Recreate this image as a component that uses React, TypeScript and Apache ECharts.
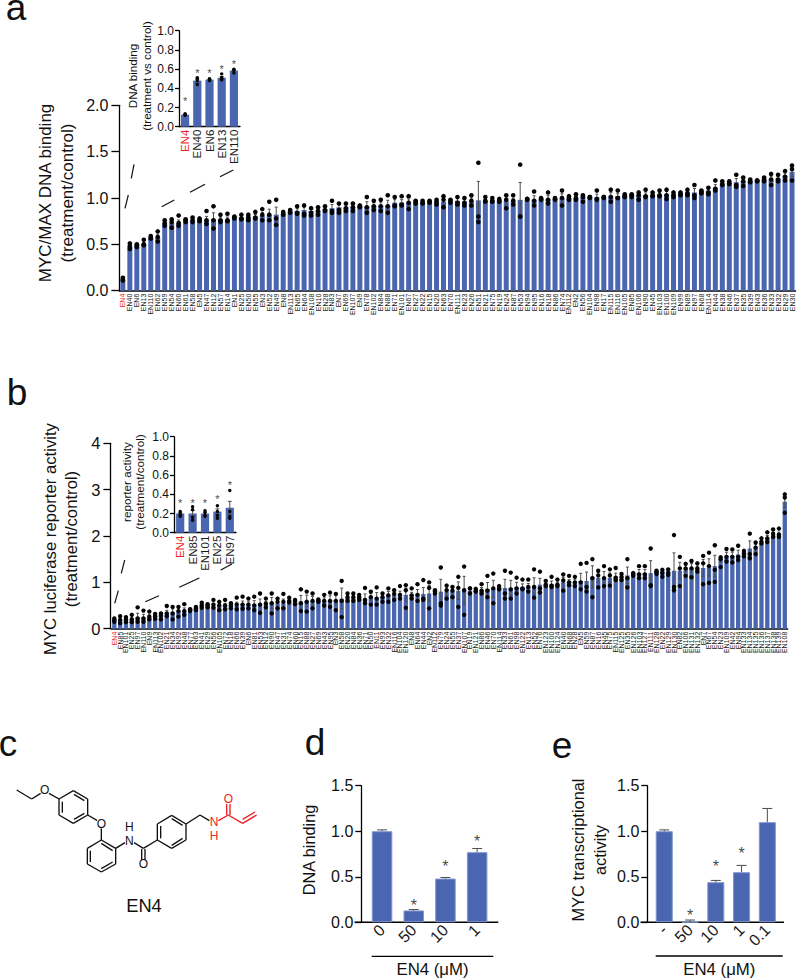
import React, { useEffect, useRef } from "react";
import * as echarts from "echarts";

const FONT = "'Liberation Sans', Arial, sans-serif";
const BLUE = "#4a66b1";
const RED = "#ee1c25";

// ---------- panel a, main ----------
const catsA = ["EN4","EN40","EN6","EN13","EN110","EN62","EN59","EN54","EN60","EN61","EN58","EN5","EN47","EN12","EN57","EN14","EN1","EN25","EN50","EN55","EN3","EN52","EN49","EN8","EN113","EN65","EN64","EN108","EN10","EN28","EN83","EN7","EN69","EN107","EN9","EN78","EN102","EN84","EN88","EN71","EN101","EN67","EN27","EN22","EN15","EN20","EN63","EN70","EN111","EN23","EN26","EN51","EN21","EN75","EN19","EN24","EN87","EN53","EN94","EN95","EN16","EN18","EN86","EN74","EN112","EN2","EN56","EN104","EN98","EN17","EN115","EN116","EN105","EN85","EN106","EN90","EN45","EN103","EN100","EN109","EN99","EN89","EN97","EN68","EN114","EN44","EN38","EN46","EN37","EN35","EN39","EN43","EN36","EN33","EN32","EN29","EN30"];
const meansA = [.12,.475,.49,.5,.57,.58,.73,.73,.73,.75,.75,.76,.76,.77,.77,.77,.79,.79,.79,.8,.81,.82,.82,.83,.85,.86,.87,.86,.86,.88,.89,.9,.9,.9,.91,.91,.92,.92,.92,.95,.95,.95,.95,.95,.96,.96,.96,.96,.97,.96,.97,.975,.97,.97,.97,.97,.97,.98,.98,.98,.99,.99,.99,1,1,1,1.01,1.01,1.01,1.01,1.02,1.02,1.03,1.03,1.03,1.03,1.03,1.04,1.04,1.04,1.05,1.06,1.06,1.07,1.08,1.11,1.15,1.16,1.17,1.18,1.18,1.19,1.2,1.2,1.21,1.24,1.28];
const pointsA = [
[.11,.12,.14],[.45,.48,.51],[.47,.49,.5],[.49,.5,.55],[.56,.57,.59],[.53,.58,.64],[.7,.73,.76],[.68,.74,.77],[.7,.73,.81],
[.74,.76,.77],[.74,.76,.79],[.75,.76,.78],[.72,.76,.86],[.67,.76,.91],[.74,.76,.82],[.75,.76,.83],[.78,.79,.8],[.77,.78,.82],[.76,.79,.82],[.78,.79,.85],
[.76,.82,.88],[.76,.82,.96],[.71,.78,.98],[.82,.83,.85],[.84,.85,.87],[.83,.84,.91],[.81,.83,.92],[.81,.84,.89],[.82,.86,.9],[.86,.87,.91],
[.84,.86,.97],[.84,.87,.94],[.86,.89,.94],[.86,.9,.94],[.9,.91,.92],[.84,.9,1.01],[.87,.91,.97],[.86,.91,.98],[.84,.91,1.03],[.91,.92,1.01],
[.92,.93,1.02],[.88,.95,1.02],[.94,.96,.97],[.94,.95,.97],[.95,.96,.97],[.93,.96,.98],[.9,.98,1.02],[.95,.97,.98],[.93,.95,1.01],[.92,.95,1],
[.92,.97,1.03],[.74,.8,1.38],[.96,.97,1.01],[.96,.97,1],[.96,.97,.99],[.89,.98,1.03],[.93,.97,1.03],[.8,.8,1.36],[.98,.99,.99],[.92,.97,1.07],
[.98,.99,1],[.94,.98,1.06],[.98,.99,1],[.92,1,1.08],[.98,1,1.02],[.98,1,1.04],[.96,1.01,1.03],[1,1.01,1.01],[.98,.99,1.08],[1,1.01,1.01],
[.96,1.01,1.09],[1,1,1.08],[1.01,1.02,1.04],[1.01,1.03,1.04],[.98,1.03,1.06],[1.01,1.02,1.09],[1.02,1.03,1.06],[1.02,1.03,1.08],[.99,1.03,1.09],[1.01,1.03,1.06],
[1.03,1.04,1.06],[1.03,1.05,1.09],[1,1.03,1.14],[1.05,1.07,1.08],[1.04,1.06,1.11],[1.08,1.1,1.19],[1.14,1.15,1.18],[1.15,1.16,1.18],[1.12,1.14,1.25],[1.13,1.18,1.22],
[1.17,1.18,1.2],[1.18,1.19,1.19],[1.18,1.2,1.22],[1.14,1.2,1.26],[1.18,1.2,1.25],[1.19,1.23,1.29],[1.19,1.31,1.35],
];

// ---------- panel a, inset ----------
const catsAI = ["EN4","EN40","EN6","EN13","EN110"];
const meansAI = [.125,.48,.49,.51,.585];
const pointsAI = [[.12,.125,.135],[.44,.48,.51,.5],[.48,.49,.5,.49],[.49,.5,.55,.51],[.56,.59,.6,.59]];
const starsAI = [.29,.58,.585,.625,.68];

// ---------- panel b, main ----------
const catsB = ["EN4","EN85","EN101","EN25","EN97","EN110","EN9","EN113","EN102","EN21","EN34","EN92","EN48","EN77","EN63","EN41","EN29","EN56","EN105","EN72","EN18","EN66","EN39","EN6","EN81","EN53","EN12","EN90","EN47","EN31","EN74","EN60","EN15","EN88","EN27","EN69","EN43","EN95","EN3","EN58","EN20","EN84","EN36","EN71","EN50","EN11","EN93","EN32","EN116","EN104","EN120","EN8","EN64","EN44","EN2","EN112","EN79","EN24","EN55","EN37","EN107","EN19","EN121","EN86","EN46","EN70","EN114","EN33","EN61","EN98","EN122","EN13","EN52","EN76","EN123","EN100","EN124","EN40","EN68","EN28","EN5","EN59","EN87","EN16","EN45","EN75","EN115","EN125","EN35","EN126","EN103","EN127","EN111","EN128","EN22","EN129","EN130","EN82","EN106","EN131","EN132","EN7","EN67","EN54","EN23","EN109","EN42","EN94","EN133","EN134","EN135","EN136","EN137","EN138","EN139","EN108"];
const meansB = [.19,.19,.2,.2,.24,.24,.25,.28,.27,.33,.35,.38,.38,.4,.44,.5,.5,.5,.49,.49,.5,.5,.52,.52,.52,.52,.53,.55,.55,.55,.56,.58,.58,.6,.6,.6,.6,.62,.62,.65,.67,.67,.68,.65,.68,.67,.68,.72,.73,.73,
.73,.72,.74,.75,.76,.77,.8,.8,.81,.82,.83,.82,.82,.83,.86,.86,.88,.88,.88,.9,.9,.9,.92,.95,.95,.96,.96,1,1,1.01,1.03,1.03,1.12,1.1,1.11,1.1,1.12,1.12,1.15,1.19,1.2,1.2,1.2,1.24,1.25,1.25,1.25,1.25,1.3,1.3,1.3,1.31,1.32,1.35,1.5,1.57,1.57,1.6,1.65,1.73,1.75,1.84,1.95,2.02,2.03,2.74];
const pointsB = [
[.15,.19,.22],[.12,.19,.27],[.14,.2,.25],[.14,.2,.3],[.15,.22,.46],[.15,.22,.39],[.2,.26,.37],[.21,.27,.32],[.2,.28,.33],[.27,.33,.49],
[.2,.33,.47],[.26,.38,.47],[.3,.38,.53],[.38,.41,.42],[.4,.44,.47],[.45,.5,.56],[.46,.5,.53],[.45,.52,.62],[.4,.5,.58],[.42,.5,.62],
[.44,.5,.55],[.42,.52,.67],[.43,.52,.69],[.44,.52,.65],[.4,.5,.69],[.34,.52,.76],[.46,.54,.65],[.33,.55,.76],[.44,.58,.65],[.44,.58,.75],
[.57,.6,.67],[.53,.6,.62],[.38,.55,.85],[.37,.58,.8],[.44,.6,.76],[.58,.6,.63],[.5,.6,.73],[.47,.6,.78],[.4,.6,.75],[.25,.6,1.03],
[.6,.68,.76],[.6,.68,.76],[.62,.68,.73],[.55,.62,.88],[.52,.68,.8],[.52,.65,.89],[.58,.68,.76],[.58,.72,.87],[.62,.75,.83],[.65,.73,.92],
[.45,.83,.94],[.65,.72,.87],[.6,.73,.96],[.62,.65,1.05],[.44,.88,1],[.76,.8,.83],[.5,.55,1.32],[.65,.83,.93],[.68,.82,.9],
[.47,.88,1.12],[.3,.83,1.34],[.76,.87,.87],[.8,.82,.86],[.76,.82,.96],[.68,.82,1.14],[.55,.87,1.19],[.85,.88,.92],[.65,.76,1.25],[.65,.85,1.21],
[.76,.87,1.1],[.85,.87,1.06],[.8,.9,1.06],[.67,.9,1.28],[.78,.87,1.23],[.92,.95,1.03],[.9,.93,1.12],[.92,.95,1.06],[.82,1.04,1.17],[.94,1.0,1.14],
[.92,1,1.12],[.85,1,1.4],[.8,.9,1.42],[.68,1.09,1.5],[.89,1.15,1.25],[.92,1.09,1.35],[.93,1.15,1.28],[1.05,1.1,1.31],[1.05,1.12,1.18],[.89,1.09,1.5],
[1.14,1.18,1.2],[1.09,1.17,1.35],[1.09,1.17,1.35],[.94,.92,1.73],[1.18,1.22,1.25],[1.12,1.2,1.27],[1.16,1.2,1.28],[.83,.9,2.02],[.92,1.3,1.55],[1.14,1.3,1.4],
[1.11,1.3,1.46],[1.23,1.3,1.41],[.96,1.41,1.57],[.99,1.35,1.64],[1.01,1.27,1.8],[1.33,1.5,1.54],[1.45,1.55,1.72],[1.43,1.55,1.71],[1.48,1.55,1.79],[1.56,1.62,1.68],
[1.52,1.61,2.05],[1.61,1.75,1.86],[1.84,1.88,1.95],[1.87,1.95,2.08],[1.98,2.05,2.14],[1.98,2.03,2.16],[2.5,2.83,2.9],
];

// ---------- panel b, inset ----------
const catsBI = ["EN4","EN85","EN101","EN25","EN97"];
const meansBI = [.2,.2,.2,.22,.26];
const pointsBI = [[.22,.2,.17,.18],[.27,.24,.16,.13],[.23,.21,.18,.17],[.28,.22,.18,.15],[.44,.22,.17,.15]];
const starsBI = [.33,.33,.33,.375,.52];

// ---------- panels d and e ----------
const catsD = ["0","50","10","1"];
const meansD = [1,.13,.48,.77];
const errD = [.015,.01,.012,.04];
const starsD = [null,.225,.655,.93];

const catsE = ["-","50","10","1","0.1"];
const meansE = [1,.005,.44,.55,1.1];
const errE = [.015,.02,.02,.075,.15];
const starsE = [null,.115,.655,.795,null];

const sem = (p: number[]) => {
  const m = p.reduce((a, b) => a + b, 0) / p.length;
  const s = Math.sqrt(p.reduce((a, b) => a + (b - m) * (b - m), 0) / (p.length - 1));
  return s / Math.sqrt(p.length);
};

const errorSeries = (xi: number, errs: number[], means: number[], cap: number, upOnly: boolean) => ({
  type: "custom",
  xAxisIndex: xi,
  yAxisIndex: xi,
  silent: true,
  clip: false,
  z: 3,
  encode: { x: 0, y: 1 },
  data: means.map((m, i) => [i, m, errs[i]]),
  renderItem: (_: any, api: any) => {
    const i = api.value(0), m = api.value(1), e = api.value(2);
    const t = api.coord([i, m + e]);
    const b = api.coord([i, upOnly ? m : m - e]);
    const st = { stroke: "#4d4d4d", lineWidth: 1 };
    const ch: any[] = [
      { type: "line", shape: { x1: t[0], y1: t[1], x2: b[0], y2: b[1] }, style: st },
      { type: "line", shape: { x1: t[0] - cap, y1: t[1], x2: t[0] + cap, y2: t[1] }, style: st },
    ];
    if (!upOnly) ch.push({ type: "line", shape: { x1: b[0] - cap, y1: b[1], x2: b[0] + cap, y2: b[1] }, style: st });
    return { type: "group", children: ch };
  },
});

const dotSeries = (xi: number, pts: number[][], size: number) => ({
  type: "scatter",
  xAxisIndex: xi,
  yAxisIndex: xi,
  silent: true,
  symbolSize: size,
  z: 4,
  itemStyle: { color: "#050505", opacity: 1 },
  data: pts.flatMap((p, i) => p.map((v) => [i, v])),
});

const starSeries = (xi: number, stars: (number | null)[], fs: number) => ({
  type: "scatter",
  xAxisIndex: xi,
  yAxisIndex: xi,
  silent: true,
  symbolSize: 1,
  z: 5,
  itemStyle: { color: "transparent" },
  label: {
    show: true,
    position: "inside",
    formatter: "*",
    fontSize: fs,
    fontFamily: FONT,
    color: "#111",
    offset: [0, fs * 0.22],
  },
  data: stars.map((v, i) => (v === null ? null : [i, v])).filter(Boolean),
});

const barSeries = (xi: number, means: number[], w: number, border = 0) => ({
  type: "bar",
  xAxisIndex: xi,
  yAxisIndex: xi,
  silent: true,
  barWidth: w,
  z: 2,
  itemStyle: { color: BLUE, borderColor: "#7f95cf", borderWidth: border },
  data: means,
});

const yAxis = (gi: number, max: number, interval: number, fs: number, margin: number, tick: number, dec: number, offset = 0, lw = 1.3) => ({
  type: "value",
  gridIndex: gi,
  min: 0,
  max,
  interval,
  offset,
  splitLine: { show: false },
  axisLine: { show: true, lineStyle: { color: "#000", width: lw } },
  axisTick: { show: true, length: tick, lineStyle: { color: "#000", width: lw } },
  axisLabel: {
    fontSize: fs,
    fontFamily: FONT,
    color: "#111",
    margin,
    formatter: (v: number) => v.toFixed(dec),
  },
});

const xAxis = (gi: number, data: string[], fs: number, rotate: number, margin: number, lineW: number, showLine = true) => ({
  type: "category",
  gridIndex: gi,
  data,
  axisLine: { show: showLine, lineStyle: { color: "#000", width: lineW } },
  axisTick: { show: false },
  axisLabel: {
    interval: 0,
    rotate,
    margin,
    fontSize: fs,
    fontFamily: FONT,
    color: (v: string) => (v === "EN4" ? RED : "#1a1a1a"),
    hideOverlap: false,
  },
});

const text = (s: string, x: number, y: number, fs: number, rot = 0, fill = "#111", lineHeight?: number) => ({
  type: "text",
  x,
  y,
  rotation: rot,
  silent: true,
  style: { text: s, fontSize: fs, fontFamily: FONT, fill, align: "center", verticalAlign: "middle", lineHeight },
});

const seg = (x1: number, y1: number, x2: number, y2: number, stroke = "#111", lineWidth = 1.2) => ({
  type: "line",
  silent: true,
  shape: { x1, y1, x2, y2 },
  style: { stroke, lineWidth },
});

// structure of EN4: points in a 3x drawing space, placed at (0,700)
const BONDS_BLACK = [
  [50,270,95,297],[95,297,122,280],[147,280,177,297],
  [177,297,220,272],[220,272,263,297],[263,297,263,345],[263,345,220,370],[220,370,177,345],[177,345,177,297],
  [187,305,187,338],[222,283,253,302],[253,340,222,358],
  [263,345,291,361],[304,385,304,420],
  [304,420,347,445],[347,445,347,492],[347,492,304,516],[304,516,262,492],[262,492,262,445],[262,445,304,420],
  [271,452,271,486],[304,506,338,486],[304,430,338,452],
  [347,445,375,428],[402,428,430,445],[430,445,472,420],[425,447,425,480],[435,447,435,480],
  [472,420,472,372],[472,372,515,346],[515,346,558,372],[558,372,558,420],[558,420,515,445],[515,445,472,420],
  [482,378,482,415],[515,356,548,376],[548,415,515,436],
  [558,372,600,345],[600,345,628,362],
];
const BONDS_RED = [
  [655,362,685,345],[680,345,680,312],[690,345,690,312],[685,345,728,370],[728,370,770,345],[728,358,765,336],
];
const ATOMS: [string, number, number, string][] = [
  ["O",134,271,"#111"],["O",304,372,"#111"],["H\nN",388,402,"#111"],["O",430,493,"#111"],
  ["N\nH",642,386,RED],["O",685,296,RED],
];

const graphics = [
  // panel letters
  text("a", 16, 7, 37), text("b", 17, 392, 37), text("c", 8, 743, 37), text("d", 315, 742, 37), text("e", 562, 745, 37),
  // a: titles and break marks
  text("MYC/MAX DNA binding", 45, 193, 17, Math.PI / 2),
  text("(treatment/control)", 67, 193, 17, Math.PI / 2),
  text("DNA binding", 132.7, 76, 11.6, Math.PI / 2),
  text("(treatment vs control)", 146, 76, 11.6, Math.PI / 2),
  seg(134, 164.3, 131.3, 178.3), seg(128.3, 195, 125, 208.3),
  seg(233.3, 170, 220, 176.7), seg(205, 184.3, 190, 192.3), seg(174.3, 200, 161.7, 206.7),
  // b: titles and break marks
  text("MYC luciferase reporter activity", 50, 539, 16.7, Math.PI / 2),
  text("(treatment/control)", 71, 539, 16.7, Math.PI / 2),
  text("reporter activity", 126.7, 482, 11.7, Math.PI / 2),
  text("(treatment/control)", 139.3, 482, 11.7, Math.PI / 2),
  seg(124.7, 560, 121.3, 573.3), seg(118.3, 590.7, 114.7, 603.3),
  seg(232, 564, 220.7, 570), seg(199.3, 578, 179.3, 587.3), seg(159, 595.7, 145.3, 601.7),
  // c: structure
  ...BONDS_BLACK.map(([a, b, c, d]) => seg(a / 3, 700 + b / 3, c / 3, 700 + d / 3, "#111", 1.35)),
  ...BONDS_RED.map(([a, b, c, d]) => seg(a / 3, 700 + b / 3, c / 3, 700 + d / 3, RED, 1.35)),
  ...ATOMS.map(([s, x, y, f]) => text(s, x / 3, 700 + y / 3, 12, 0, f, 14)),
  text("EN4", 144, 905.7, 18.3),
  // d
  text("DNA binding", 309.3, 850, 16.3, Math.PI / 2),
  seg(354.5, 922.3, 498.3, 922.3, "#000", 1.4),
  seg(371.7, 956.3, 493.3, 956.3, "#000", 1.3),
  text("EN4 (\u03bcM)", 432.5, 969, 16.8),
  // e
  text("MYC transcriptional", 578.3, 850, 16.4, Math.PI / 2),
  text("activity", 600, 850, 16.4, Math.PI / 2),
  seg(640.5, 922.3, 784, 922.3, "#000", 1.4),
  seg(655.7, 956, 782.7, 956, "#000", 1.3),
  text("EN4 (\u03bcM)", 719.3, 969, 16.8),
];

const grids = [
  { left: 119.4, top: 105.3, width: 676.1, height: 185.4 },
  { left: 179, top: 30.7, width: 61, height: 96 },
  { left: 111.4, top: 443.3, width: 676.3, height: 185.4 },
  { left: 174, top: 436.7, width: 62, height: 96 },
  { left: 366.2, top: 785.7, width: 126.8, height: 136.6 },
  { left: 651.4, top: 785.7, width: 128.8, height: 136.6 },
];

const option: any = {
  animation: false,
  backgroundColor: "#fff",
  grid: grids,
  xAxis: [
    xAxis(0, catsA, 7, 90, 3, 1.5),
    xAxis(1, catsAI, 11.5, 90, 3, 1.3),
    xAxis(2, catsB, 7, 90, 3, 1.5),
    xAxis(3, catsBI, 11.5, 90, 3, 1.3),
    xAxis(4, catsD, 16, 45, 5, 1.4, false),
    xAxis(5, catsE, 16, 45, 5, 1.4, false),
  ],
  yAxis: [
    yAxis(0, 2, 0.5, 16, 11, 8, 1),
    yAxis(1, 1, 0.2, 12, 5, 4, 1),
    yAxis(2, 4, 1, 16.5, 10, 7, 0, 1),
    yAxis(3, 1, 0.2, 12, 5, 4, 1),
    yAxis(4, 1.5, 0.5, 16, 8, 6, 1, 4.9),
    yAxis(5, 1.5, 0.5, 16, 8, 6, 1, 4.1),
  ],
  series: [
    barSeries(0, meansA, 5),
    errorSeries(0, pointsA.map(sem), meansA, 1.5, false),
    dotSeries(0, pointsA, 4.6),
    barSeries(1, meansAI, 8.2),
    errorSeries(1, pointsAI.map(sem), meansAI, 2, false),
    dotSeries(1, pointsAI, 3.4),
    starSeries(1, starsAI, 11),
    barSeries(2, meansB, 4.3),
    errorSeries(2, pointsB.map(sem), meansB, 1.5, false),
    dotSeries(2, pointsB, 4.4),
    barSeries(3, meansBI, 8.2),
    errorSeries(3, pointsBI.map(sem), meansBI, 2, false),
    dotSeries(3, pointsBI, 3.4),
    starSeries(3, starsBI, 11),
    barSeries(4, meansD, 20.5, 1),
    errorSeries(4, errD, meansD, 5, true),
    starSeries(4, starsD, 16),
    barSeries(5, meansE, 17, 1),
    errorSeries(5, errE, meansE, 5, true),
    starSeries(5, starsE, 16),
  ],
  graphic: { elements: graphics },
};

export default function App() {
  const ref = useRef<HTMLDivElement>(null);
  useEffect(() => {
    const chart = echarts.init(ref.current!, undefined, { renderer: "svg" });
    chart.setOption(option);
    return () => chart.dispose();
  }, []);
  return <div ref={ref} style={{ position: "absolute", left: 0, top: 0, width: 797, height: 978 }} />;
}
